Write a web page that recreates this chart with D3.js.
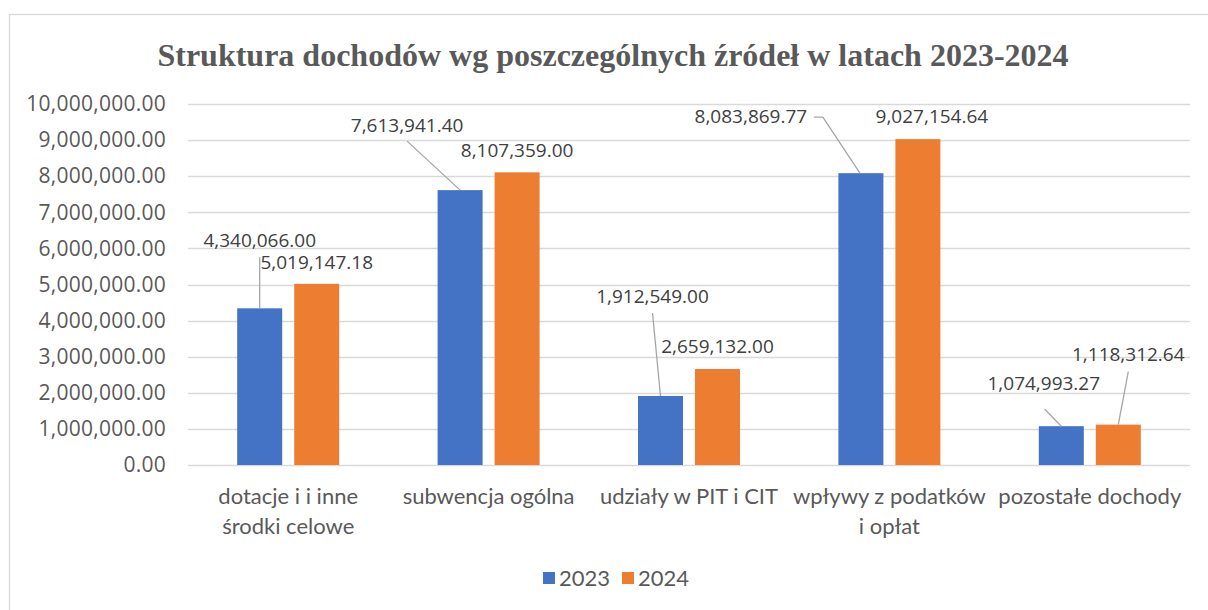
<!DOCTYPE html>
<html><head><meta charset="utf-8">
<script src="https://cdn.jsdelivr.net/npm/d3@7"></script>
<style>body{margin:0;background:#fff}svg{display:block}</style>
</head><body>
<svg id="c" width="1208" height="610"></svg>
<script>
const title = "Struktura dochodów wg poszczególnych źródeł w latach 2023-2024";
const categories = [
  ["dotacje i i inne", "środki celowe"],
  ["subwencja ogólna"],
  ["udziały w PIT i CIT"],
  ["wpływy z podatków", "i opłat"],
  ["pozostałe dochody"]
];
const seriesNames = ["2023", "2024"];
const values2023 = [4340066.00, 7613941.40, 1912549.00, 8083869.77, 1074993.27];
const values2024 = [5019147.18, 8107359.00, 2659132.00, 9027154.64, 1118312.64];
const yTicks = [0,1000000,2000000,3000000,4000000,5000000,6000000,7000000,8000000,9000000,10000000];

// label placement offsets (layout) relative to bar top-center: [dx, dy] for text center
const labelOffsets = [
  [[0,-68],[0,-21]],
  [[-53,-65],[0,-22]],
  [[-8,-100],[0,-23]],
  [[-110,-57],[14,-23]],
  [[-17.5,-43],[10,-70]]
];
const leaders = [
  [true,false],[true,false],[true,false],[true,false],[true,true]
];

const svg = d3.select("#c");
const colors = ["#4472c4", "#ed7d31"];
const series = [values2023, values2024];

svg.append("rect").attr("x",9.5).attr("y",14.5).attr("width",1210).attr("height",620)
  .attr("fill","#fff").attr("stroke","#d9d9d9").attr("stroke-width",1.3);

svg.append("text").attr("x",613).attr("y",66).attr("text-anchor","middle")
  .attr("font-family","'Liberation Serif','Times New Roman',serif").attr("font-weight","bold")
  .attr("font-size",32).attr("fill","#595959").text(title);

const x0 = d3.scaleBand().domain(d3.range(categories.length)).range([188,1190]);
const y = d3.scaleLinear().domain([0,10000000]).range([465,104]);
const barW = 45, gap = 12;
const fmt = d3.format(",.2f");

const g = svg.append("g");
// gridlines
g.selectAll("line.grid").data(yTicks).join("line")
  .attr("x1",188).attr("x2",1190).attr("y1",d=>Math.round(y(d))+0.5).attr("y2",d=>Math.round(y(d))+0.5)
  .attr("stroke","#d9d9d9").attr("stroke-width",1.3);

// y axis
const yAxis = d3.axisLeft(y).tickValues(yTicks).tickSize(0).tickPadding(0).tickFormat(fmt);
const ya = svg.append("g").attr("transform","translate(166,0)").call(yAxis);
ya.select(".domain").remove();
ya.selectAll("text").attr("font-family","'Open Sans',sans-serif").attr("font-size",21)
  .attr("fill","#595959").attr("letter-spacing",0.25);

// bars
series.forEach((vals,si)=>{
  g.selectAll("rect.s"+si).data(vals).join("rect")
    .attr("x",(d,i)=>x0(i)+x0.bandwidth()/2 + (si===0 ? -gap/2-barW : gap/2))
    .attr("y",d=>y(d)).attr("width",barW).attr("height",d=>y(0)-y(d))
    .attr("fill",colors[si]);
});

// data labels
series.forEach((vals,si)=>{
  vals.forEach((v,i)=>{
    const bx = x0(i)+x0.bandwidth()/2 + (si===0 ? -gap/2-barW/2 : gap/2+barW/2);
    const by = y(v);
    const [dx,dy] = labelOffsets[i][si];
    const tx = bx+dx, ty = by+dy;
    if (leaders[i][si]) {
      let pts;
      if (i===0) pts = [[bx,ty+17],[bx,by]];
      else if (i===1) pts = [[tx,ty+16],[bx,by]];
      else if (i===2) pts = [[tx,ty+17],[bx,by]];
      else if (i===3) pts = [[tx+63,ty+1],[tx+72,ty+1],[bx-1,by]];
      else if (i===4 && si===0) pts = [[tx+1,ty+26],[bx,by]];
      else pts = [[tx,ty+17],[bx,by]];
      svg.append("path").attr("d",d3.line()(pts)).attr("fill","none")
        .attr("stroke","#a6a6a6").attr("stroke-width",1.3);
    }
    svg.append("text").attr("x",tx).attr("y",ty).attr("dy","0.35em").attr("text-anchor","middle")
      .attr("font-family","'Open Sans',sans-serif").attr("font-size",19).attr("fill","#404040")
      .text(fmt(v));
  });
});

// category labels
categories.forEach((lines,i)=>{
  const t = svg.append("text").attr("text-anchor","middle")
    .attr("font-family","Lato,'Open Sans',sans-serif").attr("font-size",22).attr("fill","#595959");
  lines.forEach((l,k)=>{
    t.append("tspan").attr("x",x0(i)+x0.bandwidth()/2).attr("y",504+k*30).text(l);
  });
});

// legend
const legend = svg.append("g");
const lx = [543, 622];
seriesNames.forEach((n,si)=>{
  legend.append("rect").attr("x",lx[si]).attr("y",572).attr("width",12).attr("height",12).attr("fill",colors[si]);
  legend.append("text").attr("x",lx[si]+16).attr("y",578).attr("dy","0.35em")
    .attr("font-family","Lato,'Open Sans',sans-serif").attr("font-size",22).attr("fill","#595959").text(n);
});
</script>
</body></html>
